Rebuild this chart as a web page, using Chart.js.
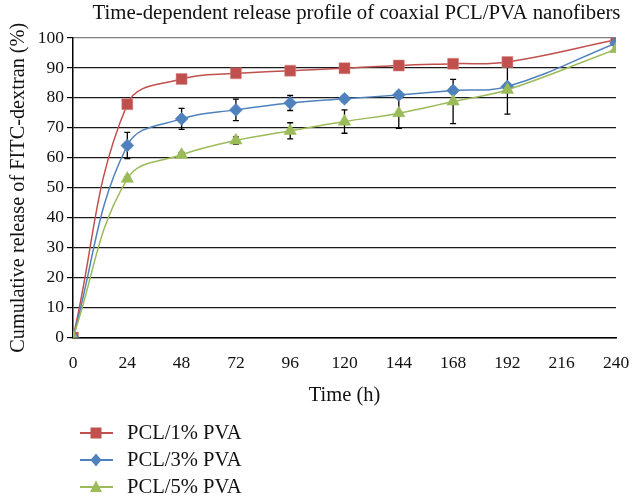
<!DOCTYPE html>
<html>
<head>
<meta charset="utf-8">
<script src="https://cdn.jsdelivr.net/npm/chart.js@4/dist/chart.umd.min.js"></script>
<style>
  html, body { margin: 0; padding: 0; background: #fff; }
  #wrap { width: 634px; height: 496px; position: relative; }
</style>
</head>
<body>
<div id="wrap"><canvas id="c" width="634" height="496"></canvas></div>
<script>
// ---- data ----
const timeHours = [0, 24, 48, 72, 96, 120, 144, 168, 192, 240];
const xTicks = [0, 24, 48, 72, 96, 120, 144, 168, 192, 216, 240];
const yTicks = [0, 10, 20, 30, 40, 50, 60, 70, 80, 90, 100];

const pva1 = [0, 77.9, 86.3, 88.2, 89.1, 89.9, 90.8, 91.4, 92.0, 99.4];
const pva3 = [0, 64.1, 73.0, 76.0, 78.3, 79.7, 81.0, 82.5, 83.8, 98.3];
const pva5 = [0, 53.0, 61.0, 65.8, 69.0, 72.1, 74.9, 78.8, 82.7, 96.3];

const err1 = [0, 0, 0.6, 1.0, 0.6, 0.5, 0.5, 0.5, 0.5, 0];
const err3 = [0, 4.4, 3.5, 3.6, 2.5, 1.0, 1.0, 1.0, 1.0, 0];
const err5 = [0, 0.5, 0.8, 1.2, 2.7, 3.9, 5.1, 7.4, 8.1, 0];

const seriesNames = ['PCL/1% PVA', 'PCL/3% PVA', 'PCL/5% PVA'];
const titleText = 'Time-dependent release profile of coaxial PCL/PVA nanofibers';
const xTitle = 'Time (h)';
const yTitle = 'Cumulative release of FITC-dextran (%)';

const FONT = '"Liberation Serif", "Times New Roman", serif';
const RED = '#C0504D', BLUE = '#4F81BD', GREEN = '#9BBB59';

function pts(vals) { return timeHours.map((t, i) => ({ x: t, y: vals[i] })); }

const errorBars = {
  id: 'errorBars',
  beforeDatasetsDraw(chart) {
    const ctx = chart.ctx, xs = chart.scales.x, ys = chart.scales.y;
    const errs = [err1, err3, err5];
    ctx.save();
    ctx.strokeStyle = '#000';
    ctx.lineWidth = 1.3;
    chart.data.datasets.forEach((ds, di) => {
      ds.data.forEach((p, i) => {
        const e = errs[di][i];
        if (!e) return;
        const x = xs.getPixelForValue(p.x);
        const y1 = ys.getPixelForValue(Math.min(100, p.y + e));
        const y2 = ys.getPixelForValue(p.y - e);
        ctx.beginPath();
        ctx.moveTo(x, y1); ctx.lineTo(x, y2);
        ctx.moveTo(x - 3, y1); ctx.lineTo(x + 3, y1);
        ctx.moveTo(x - 3, y2); ctx.lineTo(x + 3, y2);
        ctx.stroke();
      });
    });
    ctx.restore();
  }
};

function drawMarker(ctx, style, x, y, color) {
  ctx.fillStyle = color;
  ctx.beginPath();
  if (style === 'rect') {
    ctx.rect(x - 5.5, y - 5.5, 11, 11);
  } else if (style === 'rectRot') {
    ctx.moveTo(x, y - 6.5); ctx.lineTo(x + 5.5, y); ctx.lineTo(x, y + 6.5); ctx.lineTo(x - 5.5, y); ctx.closePath();
  } else {
    ctx.moveTo(x, y - 6.5); ctx.lineTo(x + 6, y + 5); ctx.lineTo(x - 6, y + 5); ctx.closePath();
  }
  ctx.fill();
}

const extras = {
  id: 'extras',
  afterDraw(chart) {
    const ctx = chart.ctx;
    ctx.save();
    // title
    ctx.fillStyle = '#111';
    ctx.font = '20.8px ' + FONT;
    ctx.textAlign = 'center';
    ctx.textBaseline = 'middle';
    ctx.fillText(titleText, 356.5, 14);
    // legend
    const rows = [433, 460, 487];
    const cols = [RED, BLUE, GREEN];
    const styles = ['rect', 'rectRot', 'triangle'];
    ctx.font = '20.6px ' + FONT;
    ctx.textAlign = 'left';
    rows.forEach((ry, i) => {
      ctx.strokeStyle = cols[i];
      ctx.lineWidth = 2;
      ctx.beginPath(); ctx.moveTo(80, ry); ctx.lineTo(113, ry); ctx.stroke();
      drawMarker(ctx, styles[i], 96, ry, cols[i]);
      ctx.fillStyle = '#111';
      ctx.fillText(seriesNames[i], 127, ry + 1);
    });
    ctx.restore();
  }
};

new Chart(document.getElementById('c'), {
  type: 'line',
  data: {
    datasets: [
      { label: seriesNames[0], data: pts(pva1), borderColor: RED, backgroundColor: RED,
        pointStyle: 'rect', pointRadius: 7.8, pointHoverRadius: 7.8, borderWidth: 1.5, pointBorderWidth: 0.5,
        pointBorderColor: '#D98A88', tension: 0.4, order: 2 },
      { label: seriesNames[1], data: pts(pva3), borderColor: BLUE, backgroundColor: BLUE,
        pointStyle: 'rectRot', pointRadius: 6.5, pointHoverRadius: 6.5, borderWidth: 1.5, pointBorderWidth: 0.5,
        pointBorderColor: BLUE, tension: 0.4, order: 1 },
      { label: seriesNames[2], data: pts(pva5), borderColor: GREEN, backgroundColor: GREEN,
        pointStyle: 'triangle', pointRadius: 7.2, pointHoverRadius: 7.2, borderWidth: 1.5, pointBorderWidth: 0.5,
        pointBorderColor: GREEN, tension: 0.4, order: 0 }
    ]
  },
  options: {
    responsive: false,
    animation: false,
    events: [],
    layout: { padding: { left: 0, right: 18, top: 38, bottom: 88.5 } },
    plugins: { legend: { display: false }, title: { display: false }, tooltip: { enabled: false } },
    scales: {
      x: {
        type: 'linear', min: 0, max: 240,
        afterBuildTicks: (s) => { s.ticks = xTicks.map(v => ({ value: v })); },
        afterFit: (s) => { s.height = 70; s.paddingLeft = 0; s.paddingRight = 0; },
        grid: { display: false, drawTicks: false },
        border: { display: true, color: '#000', width: 1.5 },
        ticks: { color: '#111', font: { family: FONT, size: 17.5 }, padding: 15, maxRotation: 0, autoSkip: false },
        title: { display: true, text: xTitle, color: '#111', font: { family: FONT, size: 20.5 }, padding: { top: 0, bottom: 0 } }
      },
      y: {
        type: 'linear', min: 0, max: 100,
        afterBuildTicks: (s) => { s.ticks = yTicks.map(v => ({ value: v })); },
        afterFit: (s) => { s.width = 73; s.paddingTop = 0; s.paddingBottom = 0; },
        grid: { color: (c) => c.tick && c.tick.value === 100 ? '#808080' : '#1a1a1a', lineWidth: 1.2, tickLength: 6, drawTicks: true, tickColor: '#000' },
        border: { display: true, color: '#000', width: 1.5 },
        ticks: { color: '#111', font: { family: FONT, size: 17.5 }, padding: 3 },
        title: { display: true, text: yTitle, color: '#111', font: { family: FONT, size: 20.3 }, padding: { top: 6, bottom: 6 } }
      }
    }
  },
  plugins: [errorBars, extras]
});
</script>
</body>
</html>
